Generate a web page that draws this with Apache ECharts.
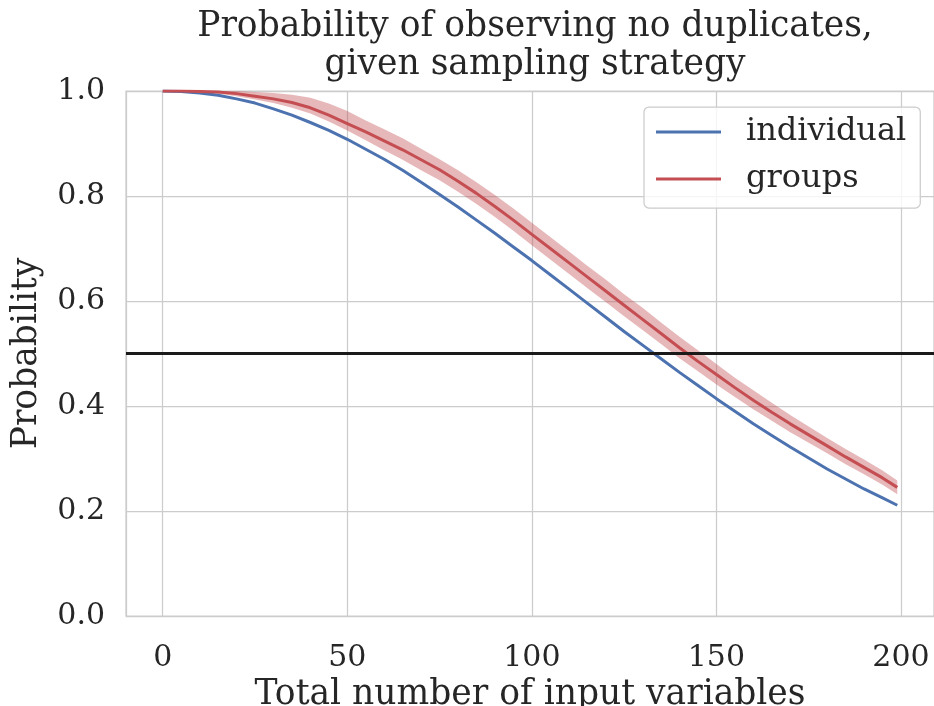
<!DOCTYPE html>
<html>
<head>
<meta charset="utf-8">
<script src="https://cdn.jsdelivr.net/npm/echarts@6/dist/echarts.min.js"></script>
<style>
  html, body { margin: 0; padding: 0; background: #fff; }
  #chart { width: 934px; height: 706px; }
</style>
</head>
<body>
<div id="chart"></div>
<script>
// x 取值（输入变量总数）
var xs = [0, 5, 10, 15, 20, 25, 30, 35, 40, 45, 50, 55, 60, 65, 70, 75, 80, 85, 90, 95,
  100, 105, 110, 115, 120, 125, 130, 135, 140, 145, 150, 155, 160, 165, 170, 175, 180, 185, 190, 195, 199];

// individual 曲线
var individual = [1.000, 0.999, 0.996, 0.992, 0.985, 0.977, 0.966, 0.954, 0.940, 0.925,
  0.908, 0.889, 0.870, 0.849, 0.826, 0.803, 0.779, 0.754, 0.729, 0.703,
  0.677, 0.650, 0.623, 0.596, 0.569, 0.542, 0.516, 0.490, 0.464, 0.439,
  0.414, 0.390, 0.366, 0.344, 0.322, 0.301, 0.280, 0.261, 0.242, 0.225, 0.211];

// groups 曲线（均值）
var groups = [1.000, 1.000, 0.999, 0.998, 0.995, 0.990, 0.985, 0.978, 0.968, 0.954,
  0.938, 0.922, 0.905, 0.888, 0.869, 0.850, 0.828, 0.805, 0.780, 0.754,
  0.727, 0.700, 0.673, 0.646, 0.619, 0.592, 0.565, 0.538, 0.511, 0.485,
  0.460, 0.435, 0.411, 0.388, 0.366, 0.345, 0.324, 0.303, 0.283, 0.263, 0.245];

// groups 置信带 上/下边界
var groupsHi = [1.000, 1.000, 1.000, 1.000, 1.000, 0.998, 0.996, 0.993, 0.987, 0.976,
  0.962, 0.944, 0.927, 0.910, 0.890, 0.870, 0.849, 0.826, 0.802, 0.776,
  0.749, 0.722, 0.695, 0.667, 0.641, 0.613, 0.587, 0.559, 0.532, 0.506,
  0.480, 0.454, 0.430, 0.406, 0.383, 0.361, 0.339, 0.318, 0.298, 0.277, 0.258];
var groupsLo = [1.000, 1.000, 0.998, 0.995, 0.990, 0.984, 0.977, 0.968, 0.957, 0.942,
  0.925, 0.906, 0.887, 0.869, 0.849, 0.830, 0.808, 0.785, 0.760, 0.734,
  0.706, 0.679, 0.652, 0.625, 0.598, 0.571, 0.545, 0.518, 0.491, 0.466,
  0.441, 0.417, 0.394, 0.372, 0.350, 0.330, 0.310, 0.289, 0.270, 0.250, 0.232];

var threshold = 0.5;

(function () {
  var myChart = echarts.init(document.getElementById('chart'));

  var font = 'DejaVu Serif';
  var textColor = '#262626';

  function pairs(ys) {
    return xs.map(function (x, i) { return [x, ys[i]]; });
  }

  var option = {
    backgroundColor: '#fff',
    animation: false,
    textStyle: { fontFamily: font, color: textColor },
    title: {
      text: 'Probability of observing no duplicates,\ngiven sampling strategy',
      left: 530,
      top: 3,
      textAlign: 'center',
      textStyle: {
        fontFamily: font,
        fontSize: 34.5,
        fontWeight: 'normal',
        color: textColor,
        lineHeight: 38
      }
    },
    legend: {
      orient: 'vertical',
      left: 644,
      top: 107,
      padding: [9, 14, 13, 12],
      itemGap: 15,
      itemWidth: 65,
      itemHeight: 3,
      icon: 'rect',
      backgroundColor: 'rgba(255,255,255,0.8)',
      borderColor: '#cccccc',
      borderWidth: 1.25,
      borderRadius: 5,
      textStyle: {
        fontFamily: font,
        fontSize: 32,
        color: textColor,
        padding: [0, 0, 0, 20]
      },
      data: ['individual', 'groups']
    },
    grid: {
      left: 126,
      top: 91,
      width: 808,
      height: 525,
      show: true,
      borderColor: '#cccccc',
      borderWidth: 1.25,
      containLabel: false,
      outerBoundsMode: 'none'
    },
    xAxis: {
      type: 'value',
      min: -9.95,
      max: 208.95,
      splitNumber: 5,
      name: 'Total number of input variables',
      nameLocation: 'middle',
      nameGap: 54,
      nameTextStyle: { fontFamily: font, fontSize: 34.5, color: textColor },
      axisLine: { show: false },
      axisTick: { show: false },
      axisLabel: {
        fontFamily: font,
        fontSize: 30,
        color: textColor,
        margin: 27,
        showMinLabel: false,
        showMaxLabel: false,
        formatter: function (v) { return v % 50 === 0 ? String(v) : ''; }
      },
      splitLine: { lineStyle: { color: '#cccccc', width: 1.25 } }
    },
    yAxis: {
      type: 'value',
      min: 0,
      max: 1,
      interval: 0.2,
      name: 'Probability',
      nameLocation: 'middle',
      nameGap: 81,
      nameTextStyle: { fontFamily: font, fontSize: 34.5, color: textColor },
      axisLine: { show: false },
      axisTick: { show: false },
      axisLabel: {
        fontFamily: font,
        fontSize: 30,
        color: textColor,
        margin: 21,
        formatter: function (v) { return v.toFixed(1); }
      },
      splitLine: { lineStyle: { color: '#cccccc', width: 1.25 } }
    },
    series: [
      {
        // 置信带
        name: 'band',
        type: 'custom',
        silent: true,
        z: 1,
        data: [0],
        renderItem: function (params, api) {
          if (params.dataIndex !== 0) return;
          var pts = [];
          for (var i = 0; i < xs.length; i++) pts.push(api.coord([xs[i], groupsHi[i]]));
          for (var j = xs.length - 1; j >= 0; j--) pts.push(api.coord([xs[j], groupsLo[j]]));
          return {
            type: 'polygon',
            shape: { points: pts },
            style: { fill: 'rgba(196,78,82,0.4)', stroke: 'none' }
          };
        }
      },
      {
        name: 'individual',
        type: 'line',
        data: pairs(individual),
        showSymbol: false,
        z: 3,
        color: '#4c72b0',
        lineStyle: { color: '#4c72b0', width: 3 },
        markLine: {
          silent: true,
          symbol: 'none',
          label: { show: false },
          lineStyle: { color: '#1a1a1a', width: 3, type: 'solid' },
          data: [{ yAxis: threshold }]
        }
      },
      {
        name: 'groups',
        type: 'line',
        data: pairs(groups),
        showSymbol: false,
        z: 3,
        color: '#c44e52',
        lineStyle: { color: '#c44e52', width: 3 }
      }
    ]
  };

  myChart.setOption(option);

  window.addEventListener('resize', function () {
    myChart.resize();
  });
})();
</script>
</body>
</html>
